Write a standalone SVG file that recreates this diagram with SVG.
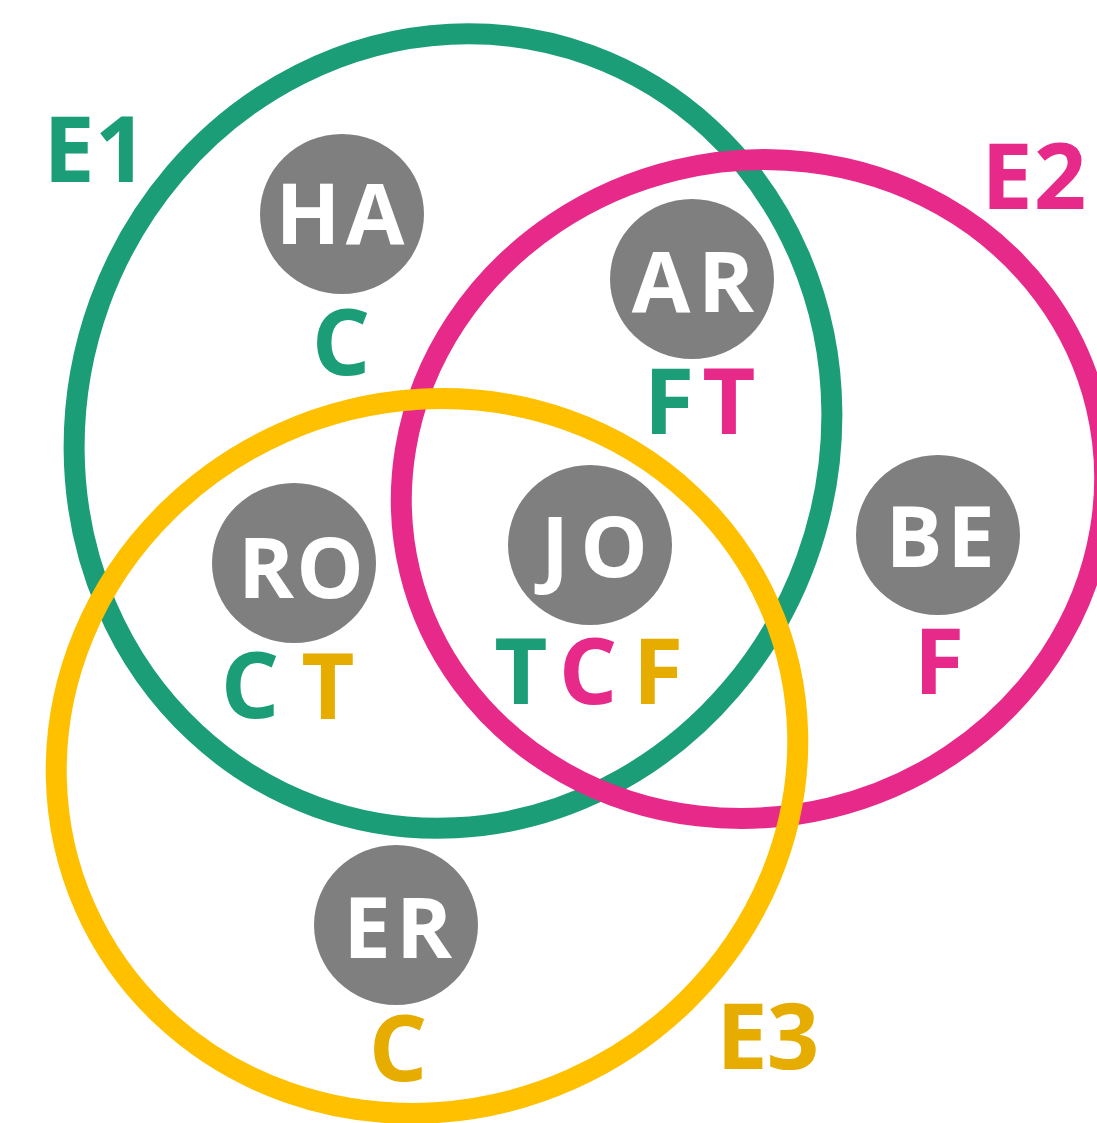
<svg xmlns="http://www.w3.org/2000/svg" width="1097" height="1123" viewBox="0 0 1097 1123">
  <style>
    .ring { fill: none; stroke-width: 21; }
    .node { fill: #7f7f7f; }
    text { font-family: "Open Sans", "Noto Sans", "Liberation Sans", sans-serif; font-weight: 700; text-anchor: middle; }
    .name { fill: #ffffff; font-size: 85px; }
    .tag { font-size: 92px; }
    .g { fill: #1b9e77; }
    .p { fill: #e7298a; }
    .y { fill: #e6ac00; }
  </style>
  <rect width="1097" height="1123" fill="#ffffff"/>

  <!-- sets -->
  <g id="set-E1">
    <ellipse class="ring" stroke="#1b9e77" cx="453" cy="431" rx="376" ry="400" transform="rotate(20 453 431)"/>
    <text class="tag g" x="69" y="182">E</text>
    <text class="tag g" x="121" y="182">1</text>
  </g>
  <g id="set-E2">
    <ellipse class="ring" stroke="#e7298a" cx="753" cy="489" rx="353" ry="328" transform="rotate(-13.5 753 489)"/>
    <text class="tag p" x="1007" y="209">E</text>
    <text class="tag p" x="1060" y="209">2</text>
  </g>
  <g id="set-E3">
    <ellipse class="ring" stroke="#ffc000" cx="427" cy="756" rx="374" ry="354" transform="rotate(-24 427 756)"/>
    <text class="tag y" x="742" y="1069">E</text>
    <text class="tag y" x="793" y="1069">3</text>
  </g>

  <!-- members -->
  <g id="node-HA">
    <ellipse class="node" cx="342" cy="214" rx="82" ry="80"/>
    <text class="name" x="308" y="244">H</text>
    <text class="name" x="375" y="244">A</text>
    <text class="tag g" x="341" y="375">C</text>
  </g>
  <g id="node-AR">
    <ellipse class="node" cx="692" cy="279" rx="82" ry="80"/>
    <text class="name" x="661" y="312">A</text>
    <text class="name" x="726" y="312">R</text>
    <text class="tag g" x="669" y="434">F</text>
    <text class="tag p" x="729" y="434">T</text>
  </g>
  <g id="node-RO">
    <ellipse class="node" cx="294" cy="563" rx="82" ry="80"/>
    <text class="name" x="266" y="598">R</text>
    <text class="name" x="330" y="598">O</text>
    <text class="tag g" x="250" y="718">C</text>
    <text class="tag y" x="328" y="719">T</text>
  </g>
  <g id="node-JO">
    <ellipse class="node" cx="590" cy="545" rx="82" ry="80"/>
    <text class="name" x="555" y="577">J</text>
    <text class="name" x="614" y="577">O</text>
    <text class="tag g" x="521" y="704">T</text>
    <text class="tag p" x="588" y="704">C</text>
    <text class="tag y" x="658" y="704">F</text>
  </g>
  <g id="node-BE">
    <ellipse class="node" cx="938" cy="535" rx="82" ry="80"/>
    <text class="name" x="914" y="567">B</text>
    <text class="name" x="971" y="567">E</text>
    <text class="tag p" x="939" y="694">F</text>
  </g>
  <g id="node-ER">
    <ellipse class="node" cx="396" cy="925" rx="82" ry="80"/>
    <text class="name" x="367" y="958">E</text>
    <text class="name" x="424" y="958">R</text>
    <text class="tag y" x="398" y="1081">C</text>
  </g>
</svg>
